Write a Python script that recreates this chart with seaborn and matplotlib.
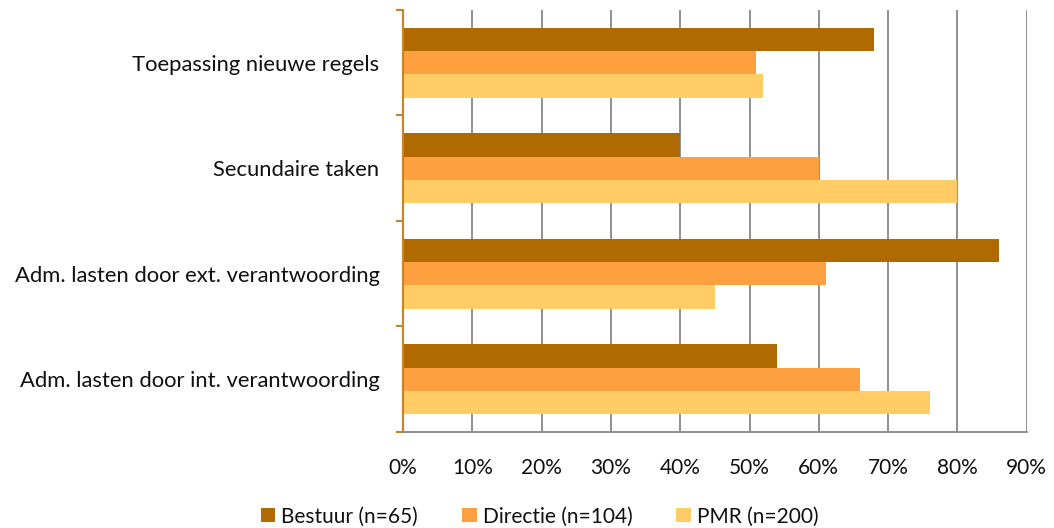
import pandas as pd
import numpy as np
import matplotlib.pyplot as plt
import seaborn as sns
from matplotlib.ticker import FixedLocator, PercentFormatter

categories = [
    "Toepassing nieuwe regels",
    "Secundaire taken",
    "Adm. lasten door ext. verantwoording",
    "Adm. lasten door int. verantwoording",
]
series = ["Bestuur (n=65)", "Directie (n=104)", "PMR (n=200)"]
bestuur = [68, 40, 86, 54]
directie = [51, 60, 61, 66]
pmr = [52, 80, 45, 76]
colors = ["#B06A02", "#FFA040", "#FFCC66"]

df = pd.DataFrame({
    "categorie": categories * 3,
    "groep": [s for s in series for _ in categories],
    "waarde": bestuur + directie + pmr,
})

sns.set_theme(style="white")
plt.rcParams["font.family"] = ["Lato", "DejaVu Sans"]

fig, ax = plt.subplots(figsize=(10.54, 5.28), dpi=100)
fig.subplots_adjust(left=0.3825, right=0.974, top=0.981, bottom=0.182)

sns.barplot(
    data=df, y="categorie", x="waarde", hue="groep", order=categories,
    hue_order=series, palette=colors, orient="h", width=0.66, gap=0,
    saturation=1, linewidth=0, ax=ax, legend=True,
)

ax.set_xlim(0, 90)
ax.set_ylim(3.5, -0.5)
ax.set_xticks(np.arange(0, 91, 10))
ax.xaxis.set_major_formatter(PercentFormatter(decimals=0))
ax.grid(axis="x", color="#888888", linewidth=1.3)
ax.set_axisbelow(True)
ax.set_xlabel("")
ax.set_ylabel("")

# category boundaries as small outward ticks on the left axis
ax.yaxis.set_minor_locator(FixedLocator(np.arange(-0.5, 4, 1)))
ax.tick_params(axis="y", which="major", length=0, pad=17, labelsize=15.8, labelcolor="#111111")
ax.tick_params(axis="y", which="minor", length=5, width=1.5, color="#C8841E", left=True)
ax.tick_params(axis="x", length=0, pad=19, labelsize=15, labelcolor="#111111")

for side in ["top", "right"]:
    ax.spines[side].set_visible(False)
ax.spines["left"].set_color("#C8841E")
ax.spines["left"].set_linewidth(1.5)
ax.spines["bottom"].set_color("#888888")
ax.spines["bottom"].set_linewidth(1.3)

handles, labels = ax.get_legend_handles_labels()
ax.get_legend().remove()
fig.legend(
    handles, labels, loc="center", bbox_to_anchor=(0.512, 0.022), ncol=3,
    frameon=False, fontsize=15, handlelength=0.7, handleheight=0.7,
    handletextpad=0.3, columnspacing=2.1, labelcolor="#111111",
)

fig.savefig("out.png", dpi=100)
